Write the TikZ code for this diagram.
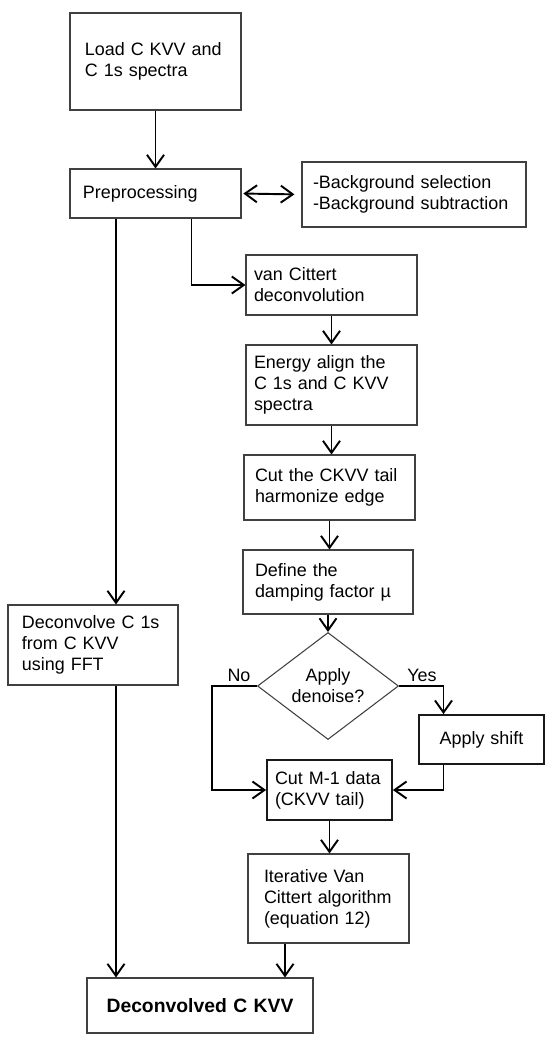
\documentclass[tikz,border=0pt]{standalone}
\usepackage{fontspec}
\setmainfont{Liberation Sans}
\usetikzlibrary{arrows.meta,positioning,calc,shapes.geometric}

\begin{document}
\begin{tikzpicture}[x=0.2mm,y=0.2mm,
  box/.style={draw=black!75,line width=0.6pt,align=left,inner ysep=1pt,inner xsep=2mm,
     font=\fontsize{10.2}{12}\selectfont},
  thk/.style={box,draw=black!90,line width=1pt},
  dec/.style={diamond,draw=black!75,line width=0.6pt,align=center,inner sep=0pt,
     minimum width=28.2mm,minimum height=17mm,font=\fontsize{10.2}{12}\selectfont},
  lbl/.style={inner sep=0pt,font=\fontsize{10.2}{12}\selectfont},
  arr/.style={-{Straight Barb[length=2.4mm,width=3.4mm]},line width=1.1pt}]
\useasboundingbox (0,0) rectangle (550,-1040);
\node[box,text width=28.2mm,inner xsep=3mm,minimum height=19.4mm] (load) at (155.5,-61.5) {Load C KVV and\\C 1s spectra};
\node[box,text width=29mm,inner xsep=2.6mm,minimum height=9.8mm] (prep) at (155.5,-193.5) {Preprocessing};
\node[box,text width=40.4mm,inner xsep=2.2mm,minimum height=13mm] (bg) at (414,-194.5) {-Background selection\\-Background subtraction};
\node[box,text width=31mm,inner xsep=1.6mm,minimum height=12mm] (vc) at (331.5,-285) {van Cittert\\deconvolution};
\node[box,text width=31mm,inner xsep=1.6mm,minimum height=16mm] (align) at (331.5,-385) {Energy align the\\C 1s and C KVV\\spectra};
\node[box,text width=29.8mm,inner xsep=2.2mm,minimum height=13mm] (cut) at (329.5,-487.5) {Cut the CKVV tail\\harmonize edge};
\node[box,text width=29.2mm,inner xsep=2.4mm,minimum height=12.8mm] (damp) at (328,-582) {Define the\\damping factor µ};
\node[dec] (dia) at (328,-686) {Apply\\denoise?};
\node[thk,text width=21mm,align=center,minimum height=9.8mm] (shift) at (481.5,-739.5) {Apply shift};
\node[thk,text width=21.8mm,inner xsep=1.6mm,minimum height=12mm] (cutm) at (329.5,-790) {Cut M-1 data\\(CKVV tail)};
\node[box,text width=25.8mm,inner xsep=3.2mm,minimum height=17.8mm] (iter) at (328.5,-898.5) {Iterative Van\\Cittert algorithm\\(equation 12)};
\node[box,text width=28.4mm,inner xsep=2.8mm,minimum height=16mm] (fft) at (93,-645) {Deconvolve C 1s\\from C KVV\\using FFT};
\node[box,text width=41.2mm,align=center,minimum height=11mm,font=\fontsize{11}{13}\selectfont\bfseries] (res) at (200,-1005.5) {Deconvolved C KVV};
\node[lbl] (no) at (239,-675) {No};
\node[lbl] (yes) at (422,-675) {Yes};
\coordinate (lx) at ([xshift=-7.9mm]prep.south);
\coordinate (rx) at ([xshift=-10mm]prep.south east);
\coordinate (sx) at ([xshift=-7.6mm]shift.north);
\coordinate (ix) at ([xshift=-8.7mm]iter.south);
\draw[arr] (load.south) -- (prep.north);
\draw[{Straight Barb[length=2.4mm,width=3.4mm]}-{Straight Barb[length=2.4mm,width=3.4mm]},line width=1.1pt,shorten <=1pt,shorten >=4pt] (prep.east) -- (bg.west);
\draw[arr] (rx) |- (vc.west);
\draw[arr] (lx) -- (lx |- fft.north);
\draw[arr] (lx |- fft.south) -- (lx |- res.north);
\draw[arr] (vc.south) -- (vc.south |- align.north);
\draw[arr] (align.south) -- (align.south |- cut.north);
\draw[arr] (cut.south) -- (cut.south |- damp.north);
\draw[arr] (damp.south) -- (damp.south |- dia.north);
\draw[arr] (dia.west) -- ++(-9mm,0) |- (cutm.west);
\draw[arr] (dia.east) -| (sx);
\draw[arr] (sx |- shift.south) |- (cutm.east);
\draw[arr] (cutm.south) -- (cutm.south |- iter.north);
\draw[arr] (ix) -- (ix |- res.north);
\end{tikzpicture}
\end{document}
